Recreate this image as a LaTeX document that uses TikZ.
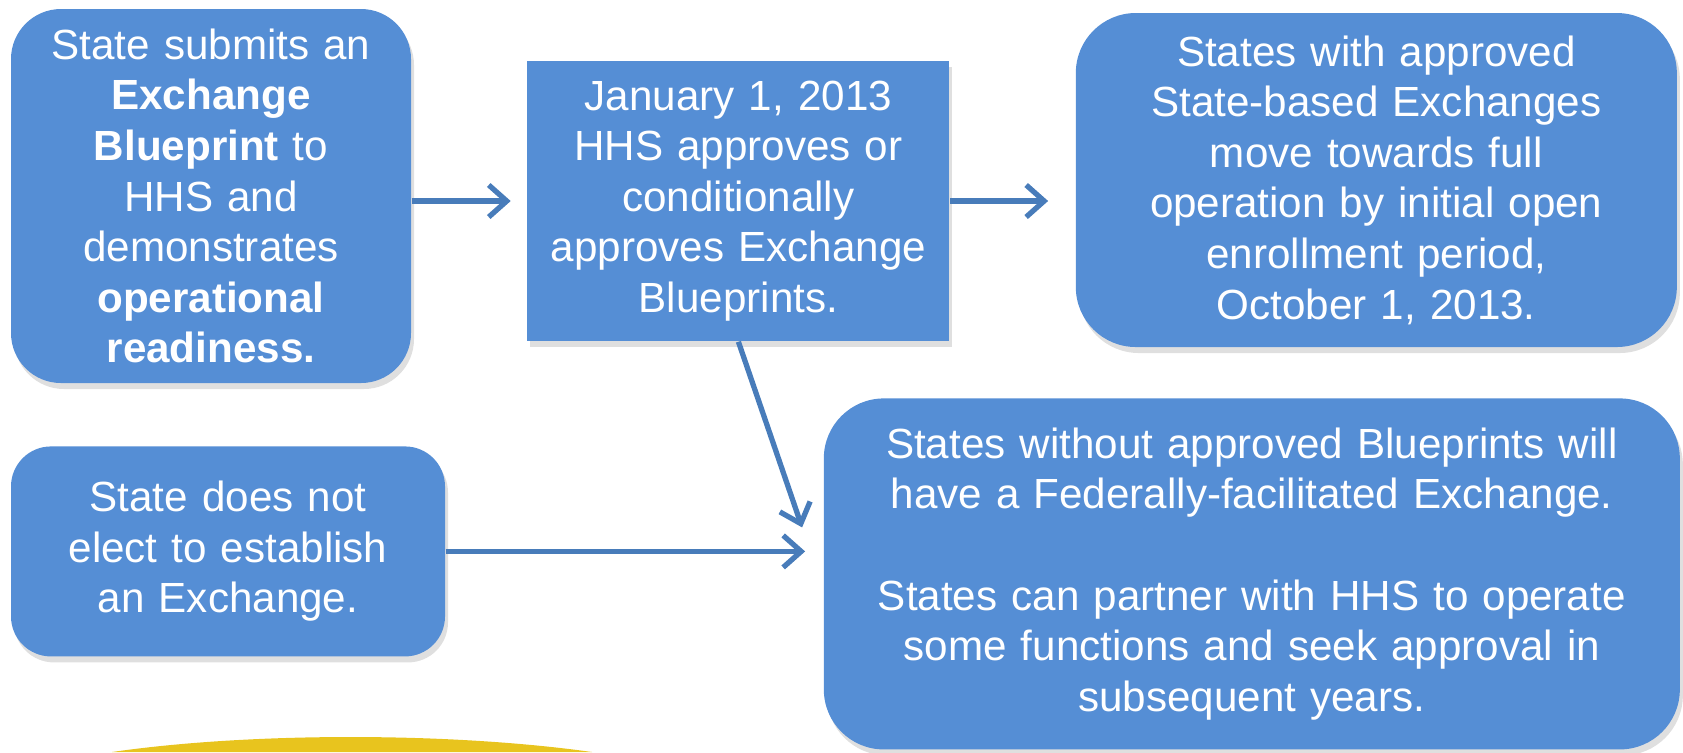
\documentclass[tikz,border=0pt]{standalone}
\usepackage{fontspec}
\setmainfont{Liberation Sans}
\usepackage{tikz}
\usetikzlibrary{positioning,arrows.meta,shadows}
\definecolor{boxblue}{RGB}{85,142,213}
\definecolor{arrowblue}{RGB}{72,124,186}
\definecolor{swooshyellow}{RGB}{232,196,30}

\begin{document}
\begin{tikzpicture}[
	box/.style={fill=boxblue, text=white, align=center, inner sep=0pt,
		font=\fontsize{12}{14.4}\selectfont,
		drop shadow={shadow xshift=0.3mm, shadow yshift=-0.6mm, opacity=0.25}},
	flow/.style={draw=arrowblue, line width=1.5pt, -{Straight Barb[length=1.8mm,width=3.2mm]}},
	]
	\useasboundingbox (0,0) rectangle (16.83,-7.52);
	%% 黄色弧
	\fill[swooshyellow] (1.12,-7.52) .. controls (2.5,-7.32) and (4.5,-7.32) .. (5.92,-7.52) -- cycle;
	%% 上排
	\node[box, rounded corners=0.5cm, text width=4cm, minimum height=3.74cm] (submit) at (2.11,-1.96)
		{State submits an\\ \textbf{Exchange}\\ \textbf{Blueprint} to\\ HHS and\\ demonstrates\\ \textbf{operational}\\ \textbf{readiness.}};
	\node[box, text width=4.22cm, minimum height=2.8cm, right=1.15cm of submit, yshift=-0.5mm] (approve)
		{January 1, 2013\\ HHS approves or\\ conditionally\\ approves Exchange\\ Blueprints.};
	\node[box, rounded corners=0.6cm, text width=6.01cm, minimum height=3.34cm, right=1.25cm of approve, yshift=2.1mm] (full)
		{States with approved\\ State-based Exchanges\\ move towards full\\ operation by initial open\\ enrollment period,\\ October 1, 2013.};
	%% 下排
	\node[box, rounded corners=0.4cm, text width=4.34cm, minimum height=2.1cm, below right=0.62cm and 0cm of submit.south west] (noelect)
		{State does not\\ elect to establish\\ an Exchange.};
	\node[box, rounded corners=0.6cm, text width=8.56cm, minimum height=3.51cm, below left=0.5cm and -0.03cm of full.south east] (federal)
		{States without approved Blueprints will\\ have a Federally-facilitated Exchange.\\[14.4pt]
		 States can partner with HHS to operate\\ some functions and seek approval in\\ subsequent years.};
	% 箭头连线
	\draw[flow, shorten >=1.6mm] (submit.east |- approve.west) -- (approve.west);
	\draw[flow, shorten >=2.7mm] (approve.east) -- (approve.east -| full.west);
	\draw[flow] (approve.south) -- ([xshift=-2.1mm,yshift=4.65mm]federal.west);
	\draw[flow, shorten >=1.8mm] (noelect.east) -- (noelect.east -| federal.west);
\end{tikzpicture}
\end{document}
